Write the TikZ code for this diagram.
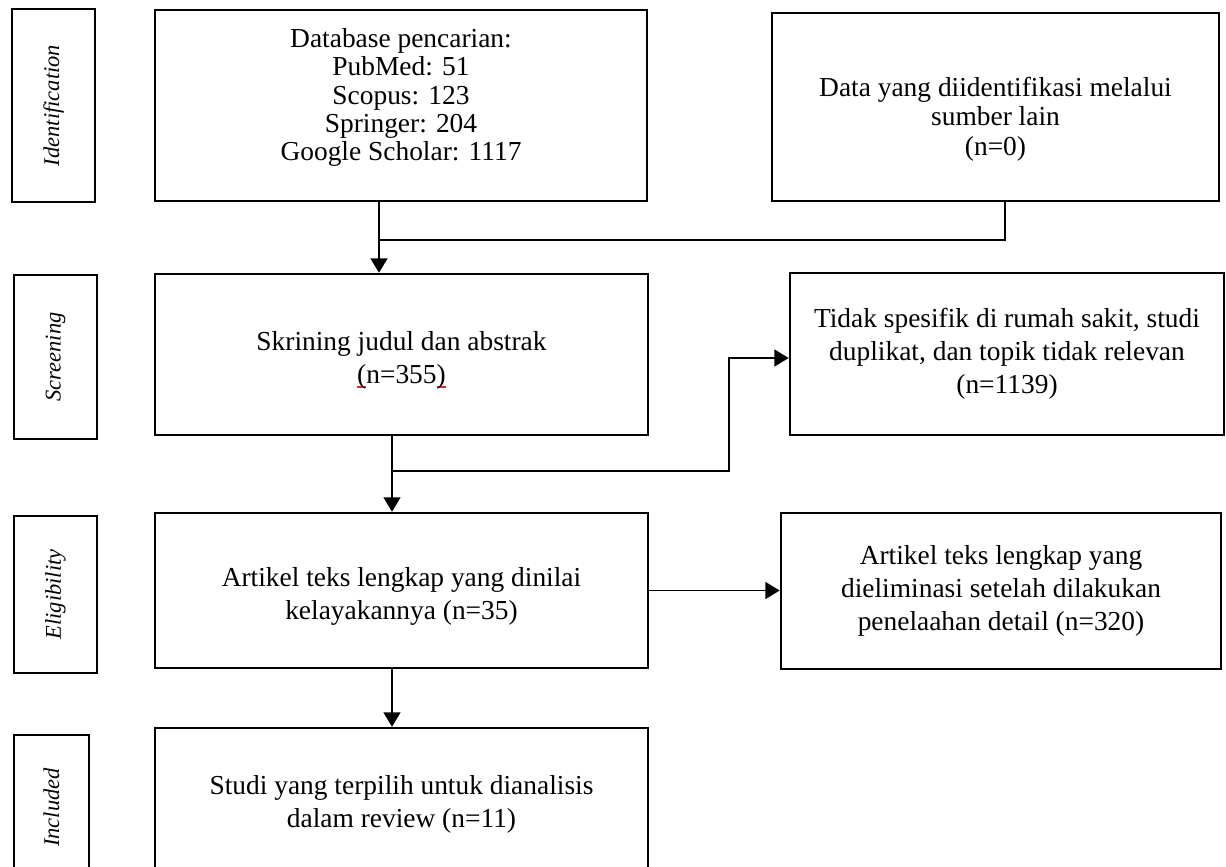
\documentclass[tikz,border=0pt]{standalone}
\usepackage{fontspec}
\setmainfont{Liberation Serif}
\usetikzlibrary{positioning, arrows.meta, calc}
\definecolor{ejaan}{RGB}{215,45,45}
\newcommand{\salah}[1]{\setbox0\hbox{#1}\rlap{\textcolor{ejaan}{\rule[-0.18em]{\wd0}{0.07em}}}\box0}

\begin{document}
\begin{tikzpicture}[x=0.025cm, y=-0.025cm,
  kotak/.style={draw, line width=1.7pt, inner sep=0pt, align=center, font=\fontsize{19.5}{23.5}\selectfont},
  tahap/.style={draw, line width=1.7pt, inner sep=0pt, rotate=90, font=\fontsize{16}{19}\selectfont\itshape},
  sambung/.style={line width=1.4pt},
  panah/.style={line width=1.4pt, -{Triangle[length=3.6mm, width=4.2mm]}}]

\clip (0,0) rectangle (1226,867);

% Label tahap (kiri)
\node[tahap, minimum width=4.825cm, minimum height=2.075cm] (tI) at (53.5,105.5) {Identification};
\node[tahap, minimum width=4.1cm, minimum height=2.075cm] (tS) at (55.5,357) {Screening};
\node[tahap, minimum width=3.925cm, minimum height=2.075cm] (tE) at (55.5,594.5) {Eligibility};
\node[tahap, minimum width=3.625cm, minimum height=1.875cm] (tN) at (51.5,807.5) {Included};

% Kotak utama
\node[kotak, minimum width=12.3cm, minimum height=4.775cm, font=\fontsize{19.5}{20}\selectfont] (db) at (401,105.5)
  {Database pencarian:\\PubMed: 51\\Scopus: 123\\Springer: 204\\Google Scholar: 1117\rule[-0.55cm]{0pt}{0pt}};
\node[kotak, minimum width=11.175cm, minimum height=4.7cm, font=\fontsize{19.5}{21}\selectfont] (dat) at (995.5,107)
  {\rule{0pt}{1.08cm}Data yang diidentifikasi melalui\\sumber lain\\(n=0)};
\node[kotak, minimum width=12.325cm, minimum height=4.025cm] (scr) at (401.5,354.5)
  {\rule{0pt}{0.75cm}Skrining judul dan abstrak\\\salah{(}n=355\salah{)}};
\node[kotak, minimum width=10.85cm, minimum height=4.05cm] (tdk) at (1007,354)
  {Tidak spesifik di rumah sakit, studi\\duplikat, dan topik tidak relevan\\(n=1139)};
\node[kotak, minimum width=12.325cm, minimum height=3.875cm] (elg) at (401.5,590.5)
  {\rule{0pt}{0.75cm}Artikel teks lengkap yang dinilai\\kelayakannya (n=35)};
\node[kotak, minimum width=11cm, minimum height=3.9cm] (elm) at (1001,591)
  {Artikel teks lengkap yang\\dieliminasi setelah dilakukan\\penelaahan detail (n=320)};
\node[kotak, minimum width=12.325cm, minimum height=3.8cm] (inc) at (401.5,804)
  {Studi yang terpilih untuk dianalisis\\dalam review (n=11)};

% Titik belok
\coordinate (j1) at (379,240);
\coordinate (m1) at (1005,240);
\coordinate (j2) at (392,471);
\coordinate (k2) at (729,358);

% Panah
\draw[panah] (db.south -| j1) -- (scr.north -| j1);
\draw[sambung] (dat.south -| m1) -- (m1) -- (j1);
\draw[panah] (scr.south -| j2) -- (elg.north -| j2);
\draw[panah] (j2) -| (k2) -- (k2 -| tdk.west);
\draw[panah] (elg.east) -- (elg.east -| elm.west);
\draw[panah] (elg.south -| j2) -- (inc.north -| j2);

\end{tikzpicture}
\end{document}
